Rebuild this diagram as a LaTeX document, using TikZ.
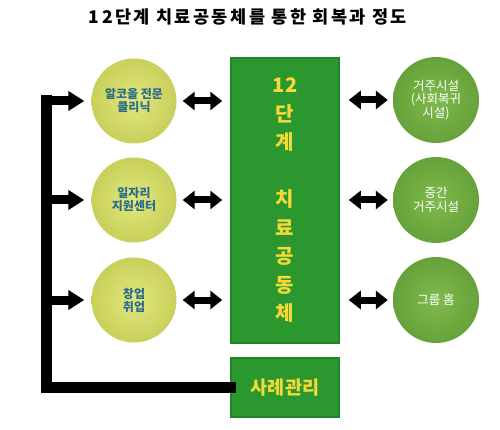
\documentclass[tikz,border=0pt]{standalone}
\usepackage{fontspec}
\newfontfamily\kr{Noto Sans CJK KR}
\newfontfamily\krsp{Noto Sans CJK KR}[LetterSpace=14]
\usetikzlibrary{arrows.meta}
\definecolor{lcircA}{HTML}{E2E87E}
\definecolor{lcircB}{HTML}{C8CF5A}
\definecolor{rcircA}{HTML}{80BA4C}
\definecolor{rcircB}{HTML}{66A23A}
\definecolor{boxg}{HTML}{2A982F}
\definecolor{boxd}{HTML}{22842A}
\definecolor{ltext}{HTML}{2B6C8C}
\definecolor{ytext}{HTML}{F6D838}
\tikzset{
  lcirc/.style={circle, minimum size=85pt, inner sep=0pt, inner color=lcircA, outer color=lcircB, text=ltext, font=\kr\bfseries\fontsize{12}{13}\selectfont, align=center},
  rcirc/.style={circle, minimum size=86pt, inner sep=0pt, inner color=rcircA, outer color=rcircB, text=white, font=\kr\fontsize{12.5}{13.5}\selectfont, align=center},
  gbox/.style={rectangle, fill=boxg, draw=boxd, line width=1.5pt, inner sep=0pt, text=ytext, align=center},
  feedline/.style={line width=11pt, line join=miter, line cap=rect},
  branch/.style={line width=9pt, -{Triangle[length=16pt,width=19pt]}, shorten >=7pt},
  dbl/.style={line width=7pt, {Triangle[length=12pt,width=18pt]}-{Triangle[length=12pt,width=18pt]}},
}
\begin{document}
\begin{tikzpicture}[x=1pt,y=-1pt]
\useasboundingbox (0,0) rectangle (500,430);
\node[font=\krsp\bfseries\fontsize{17.5}{20}\selectfont] (title) at (248,17) {12단계 치료공동체를 통한 회복과 정도};

\node[lcirc] (L1) at (134,101) {알코올 전문\\클리닉};
\node[lcirc] (L2) at (134,200) {일자리\\지원센터};
\node[lcirc] (L3) at (134,300) {창업\\취업};

\node[rcirc] (R1) at (436,100) {거주시설\\(사회복귀\\시설)};
\node[rcirc] (R2) at (436,200) {중간\\거주시설};
\node[rcirc] (R3) at (436,300) {그룹 홈};

\node[gbox, minimum width=108pt, minimum height=285pt, font=\kr\bfseries\fontsize{20}{28.5}\selectfont] (main) at (285,200.5) {12\\단\\계\\\mbox{}\\치\\료\\공\\동\\체};
\node[gbox, minimum width=108pt, minimum height=59pt, font=\kr\bfseries\fontsize{18.5}{21}\selectfont] (case) at (285,387.5) {사례관리};

\coordinate (cb) at (46.5,387.5);
\coordinate (c1) at (46.5,101);
\coordinate (c2) at (46.5,200);
\coordinate (c3) at (46.5,300);

\draw[feedline] (case.west) -- (cb) -- (c1);
\draw[branch] (c1) -- (L1.west);
\draw[branch] (c2) -- (L2.west);
\draw[branch] (c3) -- (L3.west);

\foreach \i in {1,2,3}{
  \draw[dbl, shorten <=6pt, shorten >=8pt] (L\i.east) -- (main.west |- L\i.east);
  \draw[dbl, shorten <=9pt, shorten >=5pt] (main.east |- R\i.west) -- (R\i.west);
}
\end{tikzpicture}
\end{document}
